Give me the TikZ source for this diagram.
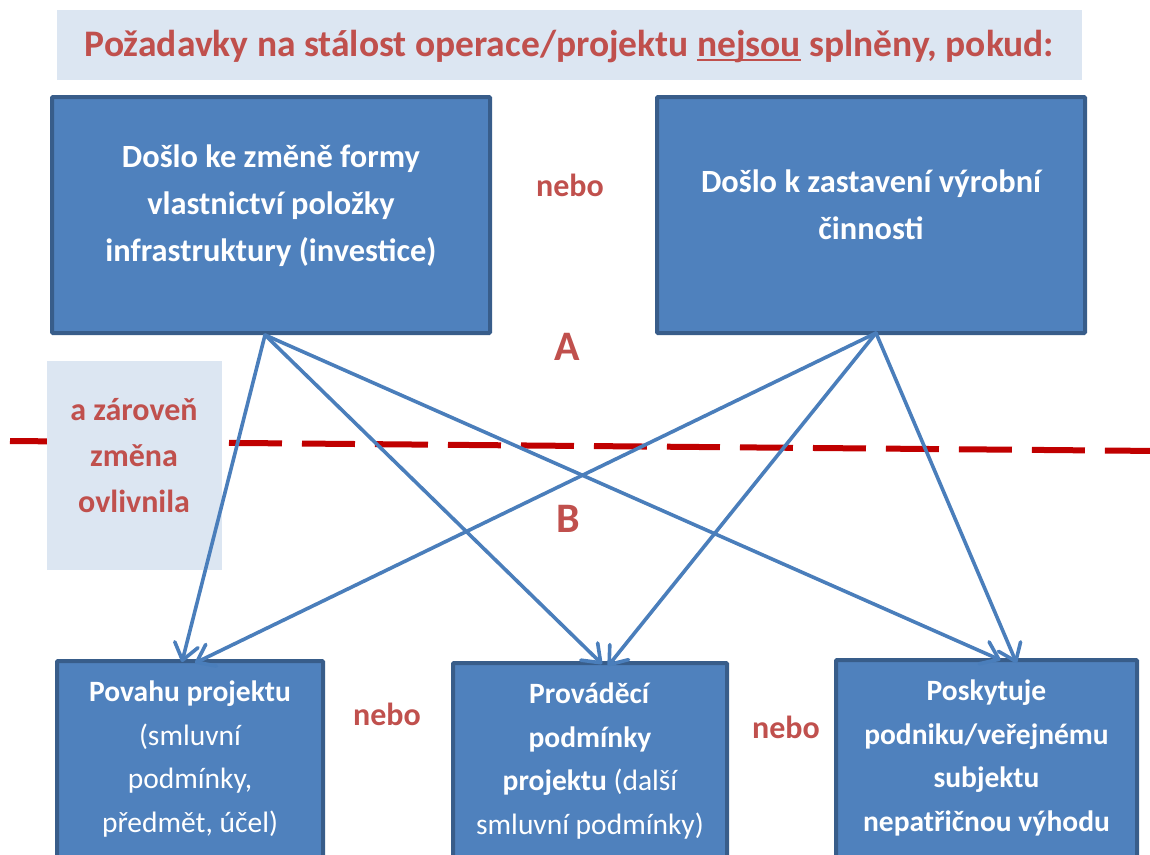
\documentclass[tikz,border=0pt]{standalone}
\usepackage{fontspec}
\setmainfont{Carlito}
\usetikzlibrary{arrows.meta,calc}
\definecolor{boxfill}{HTML}{4F81BD}
\definecolor{boxedge}{HTML}{385D8A}
\definecolor{pale}{HTML}{DCE6F2}
\definecolor{redtxt}{HTML}{C0504D}
\definecolor{dashred}{HTML}{C00000}
\definecolor{arrowblue}{HTML}{4A7EBB}
\newcommand\redul[1]{\setbox0\hbox{#1}\rlap{\color{redtxt}\rule[-4.5pt]{\wd0}{2.6pt}}\box0\relax}
\tikzset{
  bluebox/.style={draw=boxedge, line width=4pt, fill=boxfill, inner sep=0pt, rounded corners=1pt},
  palebox/.style={fill=pale, draw=none, inner sep=0pt},
  wtext/.style={text=white, align=center, inner sep=0pt, font=\bfseries\fontsize{32.4}{47}\selectfont},
  wtextb/.style={text=white, align=center, inner sep=0pt, font=\fontsize{29.5}{43.5}\selectfont},
  redlab/.style={text=redtxt, inner sep=0pt, font=\bfseries\fontsize{32}{34}\selectfont},
  biglab/.style={text=redtxt, inner sep=0pt, font=\bfseries\fontsize{42}{44}\selectfont},
  dashline/.style={draw=dashred, line width=6pt, dash pattern=on 53pt off 20pt},
  arr/.style={draw=arrowblue, line width=3.6pt, line cap=round, -{Straight Barb[length=16pt,width=24pt,line width=3.6pt,round]}},
}
\begin{document}
\begin{tikzpicture}[x=1pt,y=-1pt]
\useasboundingbox (0,0) rectangle (1150,854);
\clip (0,0) rectangle (1150,854);
% title
\node[palebox, minimum width=1025pt, minimum height=70pt] (titlebox) at (569.5,45) {};
\node[text=redtxt, inner sep=0pt, font=\bfseries\fontsize{37.5}{40}\selectfont] (title) at (569.5,47)
  {Požadavky na stálost operace/projektu \redul{nejsou} splněny, pokud:};
% dashed line
\coordinate (dl) at (10,441);
\coordinate (dr) at (1160,451);
\draw[dashline] (dl) -- (dr);
% side box
\node[palebox, minimum width=175pt, minimum height=209pt] (side) at (134.5,465.5) {};
\node[text=redtxt, align=center, inner sep=0pt, font=\bfseries\fontsize{32}{46}\selectfont] (sidet) at (134,456)
  {a zároveň\\změna\\ovlivnila};
% top boxes
\node[bluebox, minimum width=438pt, minimum height=236pt] (tl) at (271,215) {};
\node[wtext] (tlt) at (271,205.5) {Došlo ke změně formy\\vlastnictví položky\\infrastruktury (investice)};
\node[bluebox, minimum width=428pt, minimum height=236pt] (tr) at (871,215) {};
\node[wtext] (trt) at (871,205) {Došlo k zastavení výrobní\\činnosti};
\node[redlab] (nebo1) at (570,185) {nebo};
\node[biglab] (A) at (567,347) {A};
\node[biglab] (B) at (568,519) {B};
% bottom boxes
\node[bluebox, minimum width=266pt, minimum height=230pt] (b1) at (190,776) {};
\node[wtextb] (b1t) at (190,759) {\textbf{Povahu projektu}\\(smluvní\\podmínky,\\předmět, účel)};
\node[bluebox, minimum width=274pt, minimum height=230pt] (b2) at (590,778) {};
\node[wtextb] (b2t) at (590,761) {\textbf{Prováděcí}\\\textbf{podmínky}\\\textbf{projektu} (další\\smluvní podmínky)};
\node[bluebox, minimum width=301pt, minimum height=230pt] (b3) at (986.5,775) {};
\node[wtextb, font=\bfseries\fontsize{29.5}{43.5}\selectfont] (b3t) at (986.5,758) {Poskytuje\\podniku/veřejnému\\subjektu\\nepatřičnou výhodu};
\node[redlab] (nebo2) at (387,714) {nebo};
\node[redlab] (nebo3) at (786,727) {nebo};
% arrows
\draw[arr] ([xshift=-6pt]tl.south) -- ([xshift=-8pt,yshift=-3pt]b1.north);
\draw[arr] ([xshift=-6pt]tl.south) -- ([xshift=12pt,yshift=-3pt]b2.north);
\draw[arr] ([xshift=-6pt]tl.south) -- ([xshift=14pt,yshift=-2pt]b3.north);
\draw[arr] ([xshift=5pt,yshift=2pt]tr.south) -- ([xshift=5pt,yshift=-4pt]b1.north);
\draw[arr] ([xshift=5pt,yshift=2pt]tr.south) -- ([xshift=18pt,yshift=-5pt]b2.north);
\draw[arr] ([xshift=5pt,yshift=2pt]tr.south) -- ([xshift=30pt,yshift=-5pt]b3.north);
\end{tikzpicture}
\end{document}
